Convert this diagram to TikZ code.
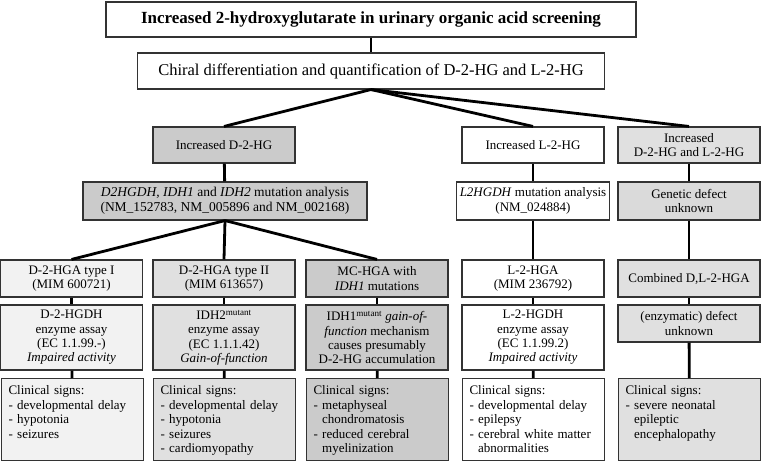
\documentclass[tikz,border=0pt]{standalone}
\usepackage{fontspec}
\setmainfont{Liberation Serif}
\definecolor{palegrey}{HTML}{F2F2F2}
\definecolor{lightgrey}{HTML}{E0E0E0}
\definecolor{midgrey}{HTML}{DADADA}
\definecolor{darkgrey}{HTML}{CBCBCB}
\tikzstyle{box}=[rectangle,draw=black!80,line width=1.1pt,align=center,inner sep=3pt,font=\fontsize{13}{14.5}\selectfont]
\tikzstyle{headbox}=[box,minimum width=142pt,minimum height=36pt]
\tikzstyle{typebox}=[box,minimum width=142pt,minimum height=37pt]
\tikzstyle{assaybox}=[box,minimum width=142pt,minimum height=65pt,font=\fontsize{13}{14.3}\selectfont]
\tikzstyle{signbox}=[box,anchor=north west,align=left,text width=128pt,inner xsep=7pt,inner ysep=3pt,text height=13.3pt,text depth=62.7pt]
\tikzstyle{link}=[draw,line width=2.8pt]

\begin{document}
\begin{tikzpicture}[x=1pt,y=-1pt]
\useasboundingbox (0,0) rectangle (761,462);

    % Screening and chiral analysis
    \node[box,minimum width=530pt,minimum height=35pt,font=\fontsize{17}{19}\selectfont\bfseries] (screen) at (371,19.5) {Increased 2-hydroxyglutarate in urinary organic acid screening};
    \node[box,minimum width=467pt,minimum height=36pt,font=\fontsize{16.5}{19}\selectfont] (chiral) at (371,71) {Chiral differentiation and quantification of D-2-HG and L-2-HG};

    % First we draw the three findings
    \foreach \pos/\name/\col/\txt in {{(224,145)/dhg/darkgrey/{Increased D-2-HG}}, {(533,145)/lhg/white/{Increased L-2-HG}}, {(689,145)/dlhg/lightgrey/{Increased\\D-2-HG and L-2-HG}}}
        \node[headbox,fill=\col] (\name) at \pos {\txt};

    % Mutation analysis
    \node[box,fill=darkgrey,minimum width=284pt,minimum height=38pt,font=\fontsize{13.5}{15}\selectfont] (dmut) at (225,201) {\textit{D2HGDH, IDH1} and \textit{IDH2} mutation analysis\\(NM\_152783, NM\_005896 and NM\_002168)};
    \foreach \pos/\name/\col/\txt in {{(533,201)/lmut/white/{\textit{L2HGDH} mutation analysis\\(NM\_024884)}}, {(689,201)/dlmut/midgrey/{Genetic defect\\unknown}}}
        \node[box,fill=\col,minimum width=142pt,minimum height=38pt] (\name) at \pos {\txt};

    % Disorders
    \foreach \pos/\name/\col/\txt in {{(71.5,278.5)/t1/palegrey/{D-2-HGA type I\\(MIM 600721)}}, {(224,278.5)/t2/lightgrey/{D-2-HGA type II\\(MIM 613657)}}, {(377,278.5)/mc/darkgrey/{MC-HGA with\\\textit{IDH1} mutations}}, {(533,278.5)/l2/white/{L-2-HGA\\(MIM 236792)}}, {(689,278.5)/comb/lightgrey/{Combined D,L-2-HGA}}}
        \node[typebox,fill=\col] (\name) at \pos {\txt};

    % Enzyme assays
    \foreach \pos/\name/\col/\txt in {{(71.5,337.5)/t1e/palegrey/{D-2-HGDH\\enzyme assay\\(EC 1.1.99.-)\\\textit{Impaired activity}}}, {(224,337.5)/t2e/lightgrey/{IDH2\textsuperscript{mutant}\\enzyme assay\\(EC 1.1.1.42)\\\textit{Gain-of-function}}}, {(377,337.5)/mce/darkgrey/{IDH1\textsuperscript{mutant} \textit{gain-of-}\\\textit{function} mechanism\\causes presumably\\D-2-HG accumulation}}, {(533,337.5)/l2e/white/{L-2-HGDH\\enzyme assay\\(EC 1.1.99.2)\\\textit{Impaired activity}}}}
        \node[assaybox,fill=\col] (\name) at \pos {\txt};
    \node[typebox,fill=lightgrey] (combe) at (689,323.5) {(enzymatic) defect\\unknown};

    % Clinical signs
    \foreach \pos/\name/\col/\txt in {{(1,378)/t1s/palegrey/{Clinical signs:\\- developmental delay\\- hypotonia\\- seizures}}, {(153,378)/t2s/lightgrey/{Clinical signs:\\- developmental delay\\- hypotonia\\- seizures\\- cardiomyopathy}}, {(306,378)/mcs/darkgrey/{Clinical signs:\\- metaphyseal\\\hphantom{- }chondromatosis\\- reduced cerebral\\\hphantom{- }myelinization}}, {(462,378)/l2s/white/{Clinical signs:\\- developmental delay\\- epilepsy\\- cerebral white matter\\\hphantom{- }abnormalities}}, {(618,378)/combs/lightgrey/{Clinical signs:\\- severe neonatal\\\hphantom{- }epileptic\\\hphantom{- }encephalopathy}}}
        \node[signbox,fill=\col] (\name) at \pos {\txt};

    % Connect the boxes
    \path[link] (screen) -- (chiral);
    \foreach \source/\dest in {chiral.south/dhg.north, chiral.south/lhg.north, chiral.south/dlhg.north, dmut.south/t1.north, dmut.south/t2.north, dmut.south/mc.north}
        \path[link] (\source) -- (\dest);
    \foreach \source/\dest in {dhg/dmut, lhg/lmut, dlhg/dlmut, lmut/l2, dlmut/comb, t1/t1e, t2/t2e, mc/mce, l2/l2e, comb/combe, t1e/t1s, t2e/t2s, mce/mcs, l2e/l2s, combe/combs}
        \path[link] (\source) -- (\dest);

\end{tikzpicture}
\end{document}
